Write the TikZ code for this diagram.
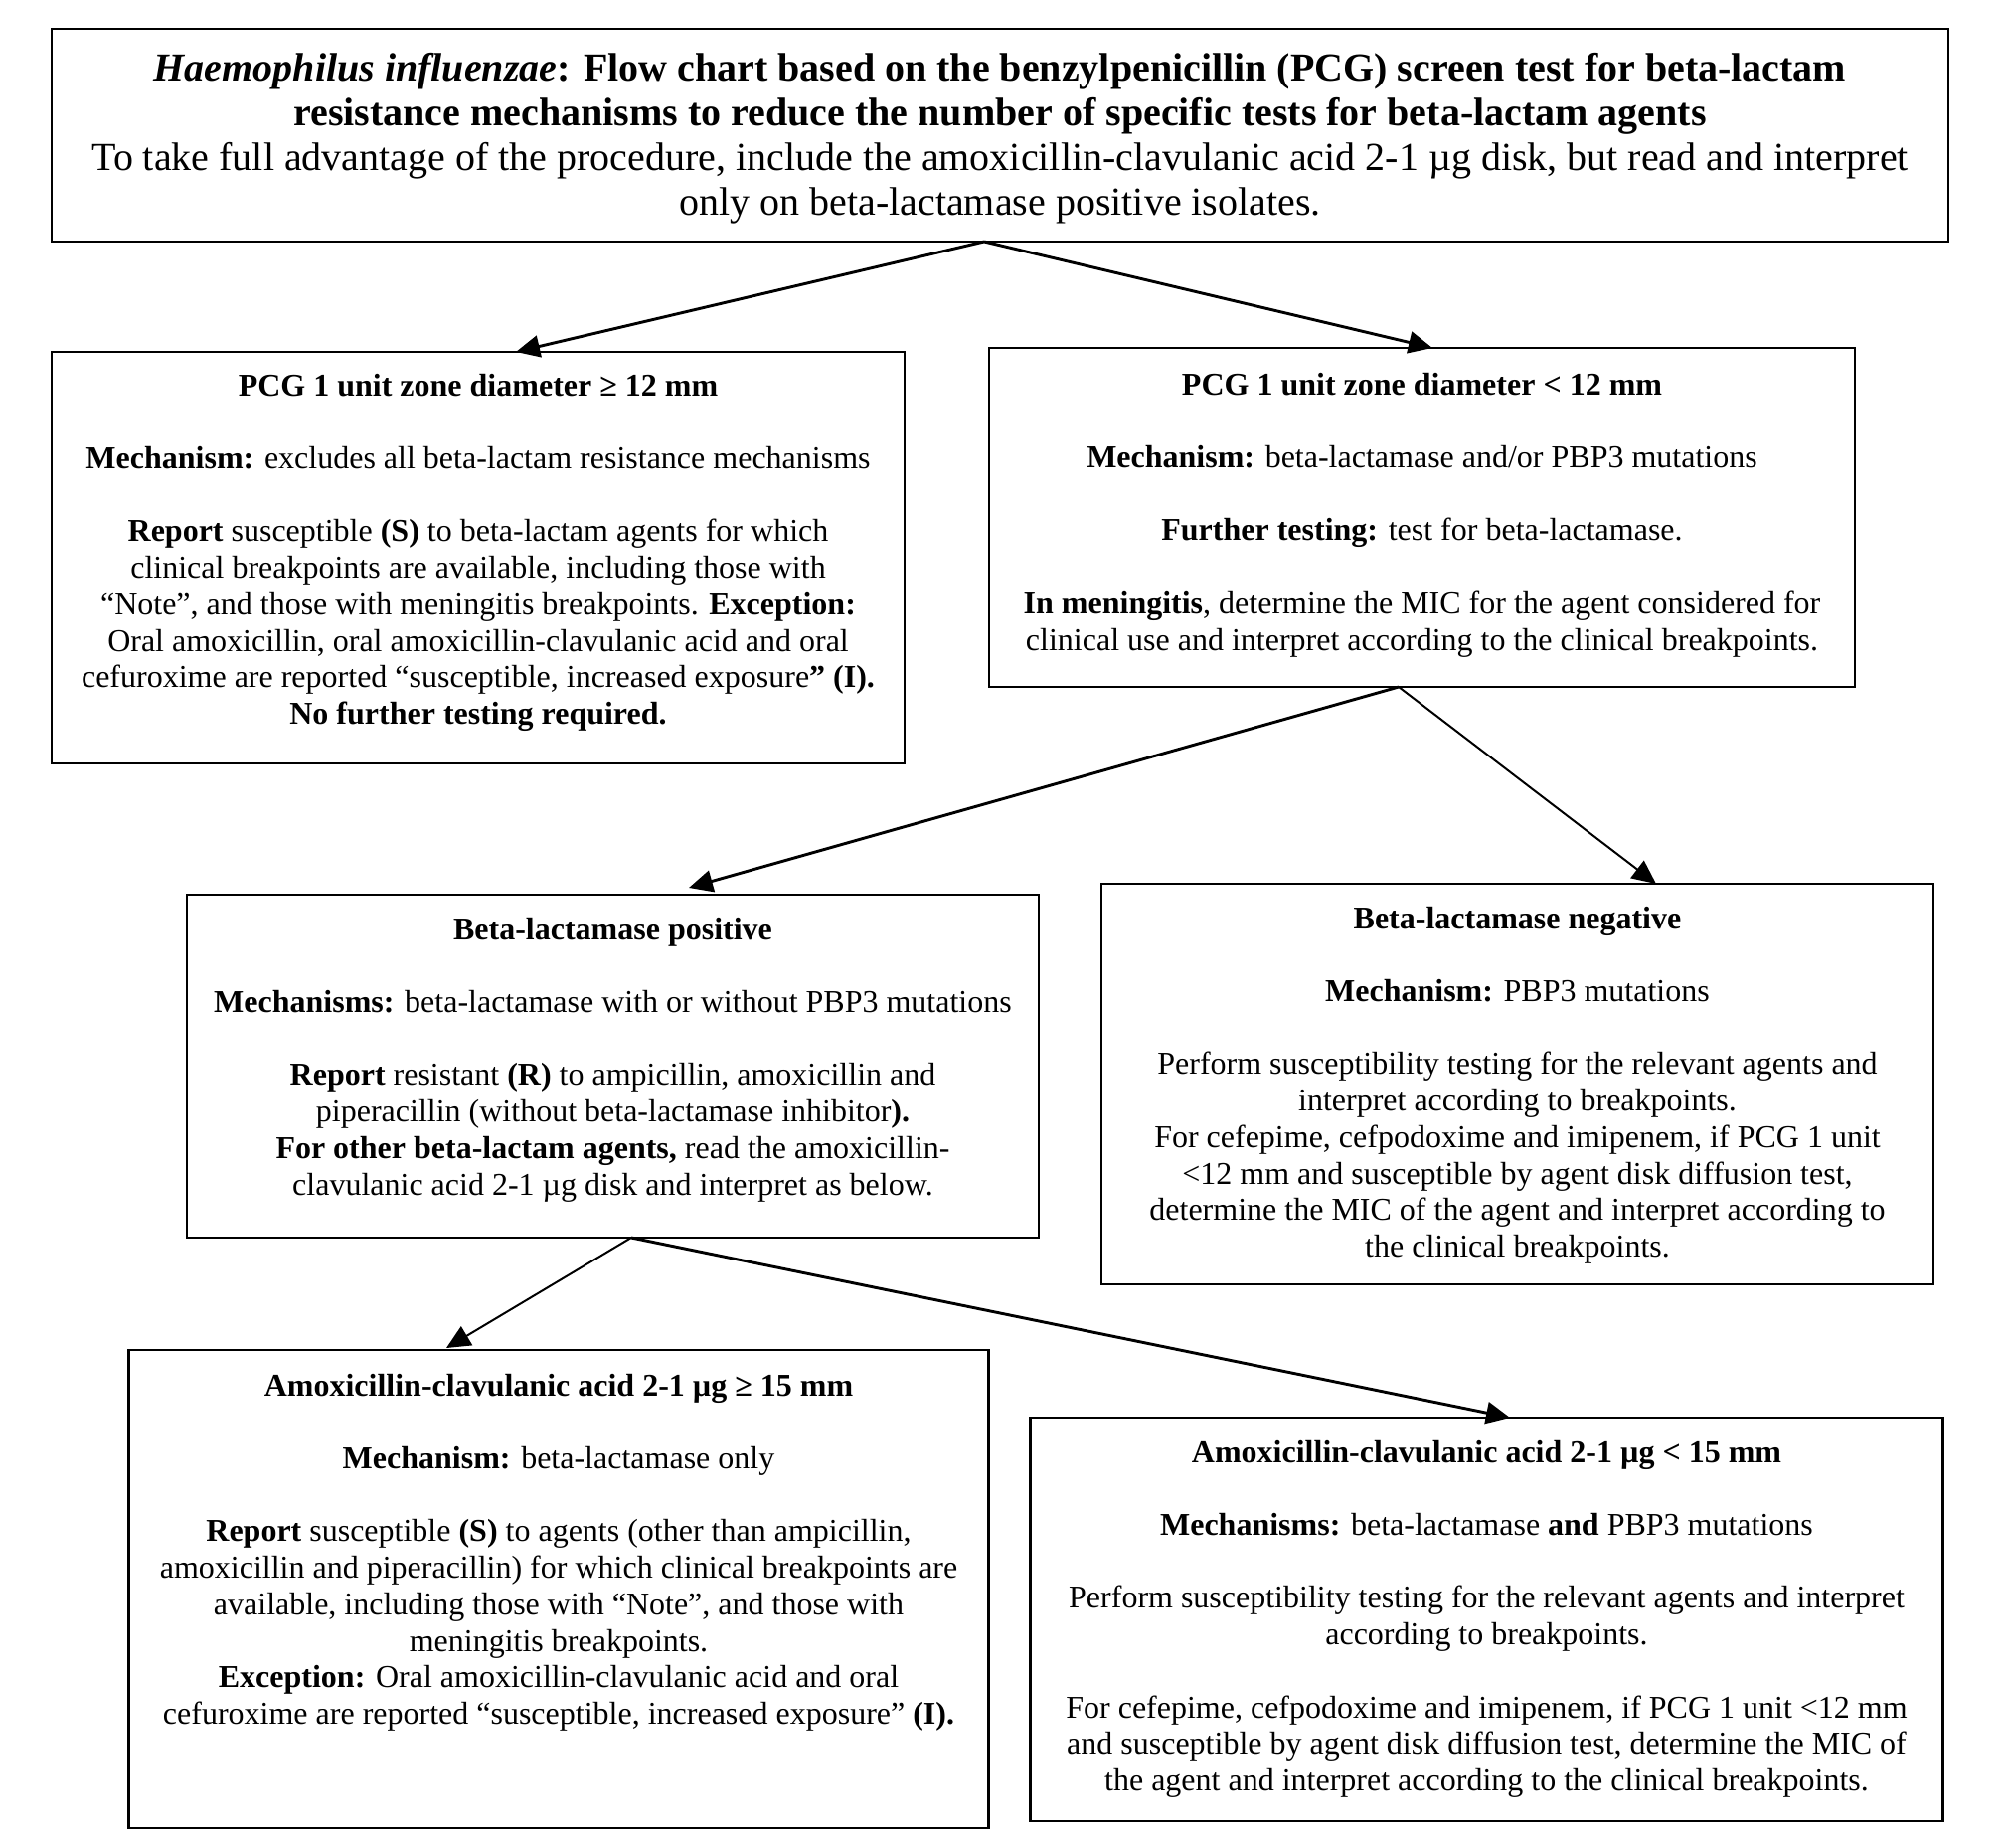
\documentclass[tikz,border=0pt]{standalone}
\usepackage{fontspec}
\setmainfont{Liberation Serif}
\usetikzlibrary{calc,arrows.meta}
\newcommand\emptyrow{\\[18.35pt]}
\begin{document}
\begin{tikzpicture}[x=0.5pt,y=-0.5pt,
  box/.style={draw, line width=1.35pt, inner sep=0pt, outer sep=0pt},
  txt/.style={anchor=north, inner sep=0pt, align=center, font=\fontsize{16}{18.35}\selectfont},
  ttl/.style={anchor=north, inner sep=0pt, align=center, font=\fontsize{20}{22.5}\selectfont},
  arr/.style={line width=1.45pt, -{Triangle[length=12pt,width=11pt]}},
  arrthin/.style={line width=1pt, -{Triangle[length=12pt,width=11pt]}}]
\useasboundingbox (0,0) rectangle (2018,1858);

\node[box, minimum width=954pt, minimum height=107pt] (top) at (1006,136) {};
\node[box, minimum width=429pt, minimum height=207pt] (b1) at (481,561) {};
\node[box, minimum width=435.5pt, minimum height=170.5pt] (b2) at (1430.5,520.5) {};
\node[box, minimum width=428.5pt, minimum height=172.5pt] (b3) at (616.5,1072.5) {};
\node[box, minimum width=418.5pt, minimum height=201.5pt] (b4) at (1526.5,1090.5) {};
\node[box, minimum width=432.5pt, minimum height=240.5pt] (b5) at (562,1598.5) {};
\node[box, minimum width=459pt, minimum height=203pt] (b6) at (1495.5,1629) {};

\node[ttl] (topt) at ($(top.north)+(0,20.5)$) {\strut\textbf{\textit{Haemophilus influenzae}: Flow chart based on the benzylpenicillin (PCG) screen test for beta-lactam}\\
\textbf{resistance mechanisms to reduce the number of specific tests for beta-lactam agents}\\
To take full advantage of the procedure, include the amoxicillin-clavulanic acid 2-1 µg disk, but read and interpret\\
only on beta-lactamase positive isolates.};

\node[txt] (b1t) at ($(b1.north)+(0,18)$) {\strut\textbf{PCG 1 unit zone diameter ≥ 12 mm}\emptyrow
\textbf{Mechanism:} excludes all beta-lactam resistance mechanisms\emptyrow
\textbf{Report} susceptible \textbf{(S)} to beta-lactam agents for which\\
clinical breakpoints are available, including those with\\
“Note”, and those with meningitis breakpoints. \textbf{Exception:}\\
Oral amoxicillin, oral amoxicillin-clavulanic acid and oral\\
cefuroxime are reported “susceptible, increased exposure\textbf{” (I).}\\
\textbf{No further testing required.}};

\node[txt] (b2t) at ($(b2.north)+(0,21)$) {\strut\textbf{PCG 1 unit zone diameter < 12 mm}\emptyrow
\textbf{Mechanism:} beta-lactamase and/or PBP3 mutations\emptyrow
\textbf{Further testing:} test for beta-lactamase.\emptyrow
\textbf{In meningitis}, determine the MIC for the agent considered for\\
clinical use and interpret according to the clinical breakpoints.};

\node[txt] (b3t) at ($(b3.north)+(0,19)$) {\strut\textbf{Beta-lactamase positive}\emptyrow
\textbf{Mechanisms:} beta-lactamase with or without PBP3 mutations\emptyrow
\textbf{Report} resistant \textbf{(R)} to ampicillin, amoxicillin and\\
piperacillin (without beta-lactamase inhibitor\textbf{).}\\
\textbf{For other beta-lactam agents,} read the amoxicillin-\\
clavulanic acid 2-1 µg disk and interpret as below.};

\node[txt] (b4t) at ($(b4.north)+(0,19)$) {\strut\textbf{Beta-lactamase negative}\emptyrow
\textbf{Mechanism:} PBP3 mutations\emptyrow
Perform susceptibility testing for the relevant agents and\\
interpret according to breakpoints.\\
For cefepime, cefpodoxime and imipenem, if PCG 1 unit\\
<12 mm and susceptible by agent disk diffusion test,\\
determine the MIC of the agent and interpret according to\\
the clinical breakpoints.};

\node[txt] (b5t) at ($(b5.north)+(0,20)$) {\strut\textbf{Amoxicillin-clavulanic acid 2-1 µg ≥ 15 mm}\emptyrow
\textbf{Mechanism:} beta-lactamase only\emptyrow
\textbf{Report} susceptible \textbf{(S)} to agents (other than ampicillin,\\
amoxicillin and piperacillin) for which clinical breakpoints are\\
available, including those with “Note”, and those with\\
meningitis breakpoints.\\
\textbf{Exception:} Oral amoxicillin-clavulanic acid and oral\\
cefuroxime are reported “susceptible, increased exposure” \textbf{(I).}};

\node[txt] (b6t) at ($(b6.north)+(0,19)$) {\strut\textbf{Amoxicillin-clavulanic acid 2-1 µg < 15 mm}\emptyrow
\textbf{Mechanisms:} beta-lactamase \textbf{and} PBP3 mutations\emptyrow
Perform susceptibility testing for the relevant agents and interpret\\
according to breakpoints.\emptyrow
For cefepime, cefpodoxime and imipenem, if PCG 1 unit <12 mm\\
and susceptible by agent disk diffusion test, determine the MIC of\\
the agent and interpret according to the clinical breakpoints.};

\draw[arr] ($(top.south)+(-16,0)$) -- ($(b1.north)+(38,0)$);
\draw[arr] ($(top.south)+(-16,0)$) -- ($(b2.north)+(10.5,0)$);
\draw[arr] ($(b2.south)+(-23.5,0)$) -- ($(b3.north)+(76.5,-7)$);
\draw[arrthin] ($(b2.south)+(-23.5,0)$) -- ($(b4.north)+(139.5,0)$);
\draw[arrthin] ($(b3.south)+(18.5,0)$) -- ($(b5.north)+(-113,-2)$);
\draw[arr] ($(b3.south)+(18.5,0)$) -- ($(b6.north)+(23.5,0)$);
\end{tikzpicture}
\end{document}
